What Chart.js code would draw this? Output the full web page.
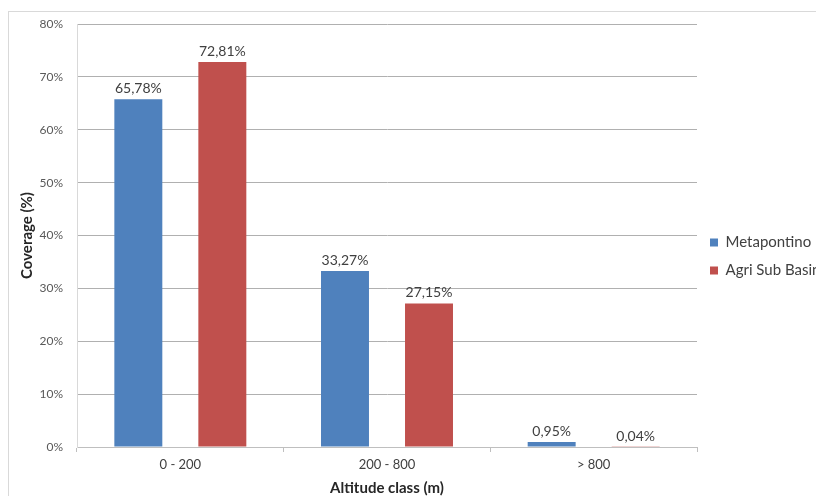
<!DOCTYPE html>
<html>
<head>
<meta charset="utf-8">
<script src="https://cdn.jsdelivr.net/npm/chart.js@4.4.0/dist/chart.umd.min.js"></script>
<style>
  html, body { margin: 0; padding: 0; background: #fff; overflow: hidden; }
  #frame { position: absolute; left: 8px; top: 11px; width: 900px; height: 600px; border: 1px solid #d9d9d9; }
  #wrap { position: absolute; left: 0; top: 0; width: 816px; height: 496px; }
</style>
</head>
<body>
<div id="frame"></div>
<div id="wrap"><canvas id="coverageChart" width="816" height="496"></canvas></div>
<script>
const altitudeClasses = ['0 - 200', '200 - 800', '> 800'];
const metapontino = [65.78, 33.27, 0.95];
const agriSubBasin = [72.81, 27.15, 0.04];
const yTicks = [0, 10, 20, 30, 40, 50, 60, 70, 80];

const FONT = 'Lato, "Open Sans", sans-serif';

// value labels above bars, comma decimals like the original
const barLabels = {
    id: 'barLabels',
    afterDatasetsDraw(chart) {
        const ctx = chart.ctx;
        ctx.save();
        ctx.font = '14px ' + FONT;
        ctx.fillStyle = '#404040';
        ctx.textAlign = 'center';
        ctx.textBaseline = 'alphabetic';
        chart.data.datasets.forEach((ds, i) => {
            chart.getDatasetMeta(i).data.forEach((bar, j) => {
                const txt = ds.data[j].toFixed(2).replace('.', ',') + '%';
                ctx.fillText(txt, bar.x, bar.y - 6);
            });
        });
        ctx.restore();
    }
};

const ctx = document.getElementById('coverageChart').getContext('2d');
const coverageChart = new Chart(ctx, {
    type: 'bar',
    data: {
        labels: altitudeClasses,
        datasets: [{
            label: 'Metapontino',
            data: metapontino,
            backgroundColor: '#4f81bd'
        }, {
            label: 'Agri Sub Basin',
            data: agriSubBasin,
            backgroundColor: '#c0504d'
        }]
    },
    options: {
        responsive: false,
        animation: false,
        categoryPercentage: 0.813,
        barPercentage: 0.571,
        layout: { padding: { top: 24, bottom: 7, left: 0, right: 0 } },
        plugins: {
            tooltip: { enabled: false },
            legend: {
                position: 'right',
                maxWidth: 119,
                labels: {
                    boxWidth: 8,
                    boxHeight: 8,
                    padding: 13,
                    color: '#404040',
                    font: { family: FONT, size: 15 }
                }
            }
        },
        scales: {
            x: {
                grid: { drawOnChartArea: false, drawTicks: true, tickLength: 5, offset: true, color: '#bfbfbf' },
                border: { color: '#bfbfbf' },
                ticks: { color: '#404040', padding: 5, font: { family: FONT, size: 13 } },
                title: {
                    display: true,
                    text: 'Altitude class (m)',
                    color: '#262626',
                    padding: { top: 0, bottom: -8 },
                    font: { family: FONT, size: 15, weight: 'bold' }
                },
                afterFit(scale) { scale.height = 42; }
            },
            y: {
                min: 0,
                max: 80,
                afterBuildTicks(scale) { scale.ticks = yTicks.map(v => ({ value: v })); },
                grid: { drawTicks: false, color: '#b0b0b0' },
                border: { color: '#d9d9d9' },
                ticks: {
                    color: '#595959',
                    padding: 14,
                    font: { family: FONT, size: 12 },
                    callback: v => v + '%'
                },
                title: {
                    display: true,
                    text: 'Coverage (%)',
                    color: '#262626',
                    padding: { top: 18, bottom: 0 },
                    font: { family: FONT, size: 15, weight: 'bold' }
                },
                afterFit(scale) { scale.width = 77; }
            }
        }
    },
    plugins: [barLabels]
});
</script>
</body>
</html>
